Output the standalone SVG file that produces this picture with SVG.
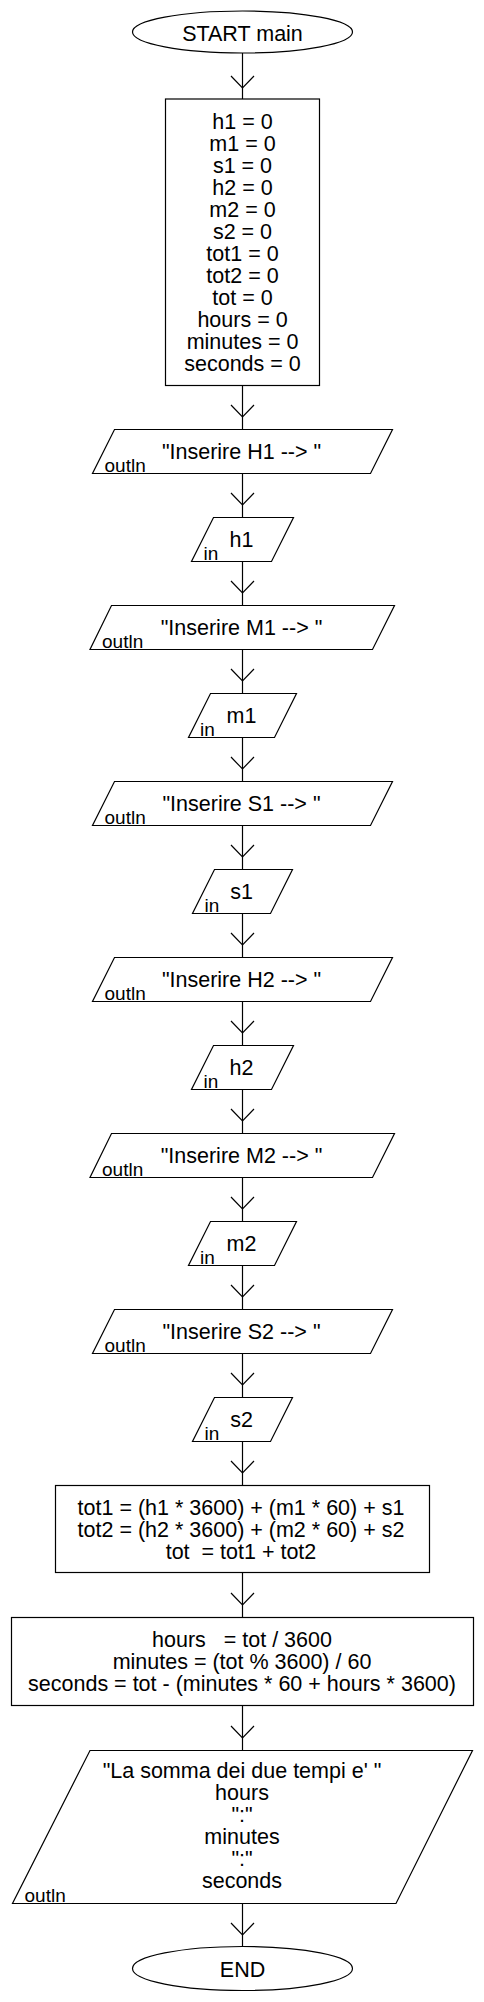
<svg xmlns="http://www.w3.org/2000/svg" width="484" height="2002" viewBox="0 0 484 2002">
<style>
.s{fill:#fff;stroke:#000;stroke-width:1.2}
.t{font-family:"Liberation Sans",Arial,sans-serif;font-size:21.5px;fill:#000;text-anchor:middle;white-space:pre}
.l{font-family:"Liberation Sans",Arial,sans-serif;font-size:19px;fill:#000}
.c line{stroke:#000;stroke-width:1.2}
.c polyline{fill:none;stroke:#000;stroke-width:1.2}
</style>
<rect width="484" height="2002" fill="#fff"/>
<g class="c" id="connectors">
<line x1="242.5" y1="53" x2="242.5" y2="99"/><polyline points="231,76 242.5,88 254,76"/>
<line x1="242.5" y1="385.5" x2="242.5" y2="429.5"/><polyline points="231,405 242.5,417 254,405"/>
<line x1="242.5" y1="473.5" x2="242.5" y2="517.5"/><polyline points="231,493 242.5,505 254,493"/>
<line x1="242.5" y1="561.5" x2="242.5" y2="605.5"/><polyline points="231,581 242.5,593 254,581"/>
<line x1="242.5" y1="649.5" x2="242.5" y2="693.5"/><polyline points="231,669 242.5,681 254,669"/>
<line x1="242.5" y1="737.5" x2="242.5" y2="781.5"/><polyline points="231,757 242.5,769 254,757"/>
<line x1="242.5" y1="825.5" x2="242.5" y2="869.5"/><polyline points="231,845 242.5,857 254,845"/>
<line x1="242.5" y1="913.5" x2="242.5" y2="957.5"/><polyline points="231,933 242.5,945 254,933"/>
<line x1="242.5" y1="1001.5" x2="242.5" y2="1045.5"/><polyline points="231,1021 242.5,1033 254,1021"/>
<line x1="242.5" y1="1089.5" x2="242.5" y2="1133.5"/><polyline points="231,1109 242.5,1121 254,1109"/>
<line x1="242.5" y1="1177.5" x2="242.5" y2="1221.5"/><polyline points="231,1197 242.5,1209 254,1197"/>
<line x1="242.5" y1="1265.5" x2="242.5" y2="1309.5"/><polyline points="231,1285 242.5,1297 254,1285"/>
<line x1="242.5" y1="1353.5" x2="242.5" y2="1397.5"/><polyline points="231,1373 242.5,1385 254,1373"/>
<line x1="242.5" y1="1441.5" x2="242.5" y2="1485.5"/><polyline points="231,1461 242.5,1473 254,1461"/>
<line x1="242.5" y1="1572.5" x2="242.5" y2="1617.5"/><polyline points="231,1593 242.5,1605 254,1593"/>
<line x1="242.5" y1="1705.5" x2="242.5" y2="1750.5"/><polyline points="231,1726 242.5,1738 254,1726"/>
<line x1="242.5" y1="1903.5" x2="242.5" y2="1946.5"/><polyline points="231,1923 242.5,1935 254,1923"/>
</g>
<g id="start"><ellipse class="s" cx="242.5" cy="32" rx="110" ry="21"/><text class="t" x="242.5" y="40.5">START main</text></g>
<g id="init"><rect class="s" x="165.5" y="99" width="154" height="286.5"/>
<text class="t" x="242.5" y="129">h1 = 0</text>
<text class="t" x="242.5" y="151">m1 = 0</text>
<text class="t" x="242.5" y="173">s1 = 0</text>
<text class="t" x="242.5" y="195">h2 = 0</text>
<text class="t" x="242.5" y="217">m2 = 0</text>
<text class="t" x="242.5" y="239">s2 = 0</text>
<text class="t" x="242.5" y="261">tot1 = 0</text>
<text class="t" x="242.5" y="283">tot2 = 0</text>
<text class="t" x="242.5" y="305">tot = 0</text>
<text class="t" x="242.5" y="327">hours = 0</text>
<text class="t" x="242.5" y="349">minutes = 0</text>
<text class="t" x="242.5" y="371">seconds = 0</text>
</g>
<g id="out1"><polygon class="s" points="114.5,429.5 392.5,429.5 370.5,473.5 92.5,473.5"/><text class="t" x="241.5" y="459">"Inserire H1 --&gt; "</text><text class="l" x="104.5" y="471.5">outln</text></g>
<g id="in1"><polygon class="s" points="213.5,517.5 293.5,517.5 271.5,561.5 191.5,561.5"/><text class="t" x="241.5" y="547">h1</text><text class="l" x="203.5" y="559.5">in</text></g>
<g id="out2"><polygon class="s" points="111.5,605.5 394.5,605.5 372.5,649.5 90,649.5"/><text class="t" x="241.5" y="635">"Inserire M1 --&gt; "</text><text class="l" x="102" y="647.5">outln</text></g>
<g id="in2"><polygon class="s" points="210.5,693.5 296.5,693.5 274.5,737.5 188.5,737.5"/><text class="t" x="241.5" y="723">m1</text><text class="l" x="200" y="735.5">in</text></g>
<g id="out3"><polygon class="s" points="114.5,781.5 392.5,781.5 370.5,825.5 92.5,825.5"/><text class="t" x="241.5" y="811">"Inserire S1 --&gt; "</text><text class="l" x="104.5" y="823.5">outln</text></g>
<g id="in3"><polygon class="s" points="214.5,869.5 292.5,869.5 270.5,913.5 192.5,913.5"/><text class="t" x="241.5" y="899">s1</text><text class="l" x="204.5" y="911.5">in</text></g>
<g id="out4"><polygon class="s" points="114.5,957.5 392.5,957.5 370.5,1001.5 92.5,1001.5"/><text class="t" x="241.5" y="987">"Inserire H2 --&gt; "</text><text class="l" x="104.5" y="999.5">outln</text></g>
<g id="in4"><polygon class="s" points="213.5,1045.5 293.5,1045.5 271.5,1089.5 191.5,1089.5"/><text class="t" x="241.5" y="1075">h2</text><text class="l" x="203.5" y="1087.5">in</text></g>
<g id="out5"><polygon class="s" points="111.5,1133.5 394.5,1133.5 372.5,1177.5 90,1177.5"/><text class="t" x="241.5" y="1163">"Inserire M2 --&gt; "</text><text class="l" x="102" y="1175.5">outln</text></g>
<g id="in5"><polygon class="s" points="210.5,1221.5 296.5,1221.5 274.5,1265.5 188.5,1265.5"/><text class="t" x="241.5" y="1251">m2</text><text class="l" x="200" y="1263.5">in</text></g>
<g id="out6"><polygon class="s" points="114.5,1309.5 392.5,1309.5 370.5,1353.5 92.5,1353.5"/><text class="t" x="241.5" y="1339">"Inserire S2 --&gt; "</text><text class="l" x="104.5" y="1351.5">outln</text></g>
<g id="in6"><polygon class="s" points="214.5,1397.5 292.5,1397.5 270.5,1441.5 192.5,1441.5"/><text class="t" x="241.5" y="1427">s2</text><text class="l" x="204.5" y="1439.5">in</text></g>
<g id="calc1"><rect class="s" x="55.5" y="1485.5" width="374" height="87"/>
<text class="t" x="241" y="1515">tot1 = (h1 * 3600) + (m1 * 60) + s1</text>
<text class="t" x="241" y="1537">tot2 = (h2 * 3600) + (m2 * 60) + s2</text>
<text class="t" x="241" y="1559">tot  = tot1 + tot2</text>
</g>
<g id="calc2"><rect class="s" x="11.5" y="1617.5" width="462" height="88"/>
<text class="t" x="242" y="1647">hours   = tot / 3600</text>
<text class="t" x="242" y="1669">minutes = (tot % 3600) / 60</text>
<text class="t" x="242" y="1691">seconds = tot - (minutes * 60 + hours * 3600)</text>
</g>
<g id="out7"><polygon class="s" points="90,1750.5 472.5,1750.5 396,1903.5 12.5,1903.5"/>
<text class="t" x="242" y="1778">"La somma dei due tempi e' "</text>
<text class="t" x="242" y="1800">hours</text>
<text class="t" x="242" y="1822">":"</text>
<text class="t" x="242" y="1844">minutes</text>
<text class="t" x="242" y="1866">":"</text>
<text class="t" x="242" y="1888">seconds</text>
<text class="l" x="24.5" y="1901.5">outln</text>
</g>
<g id="end"><ellipse class="s" cx="242.5" cy="1968.5" rx="110" ry="22"/><text class="t" x="242.5" y="1976.5">END</text></g>
</svg>
